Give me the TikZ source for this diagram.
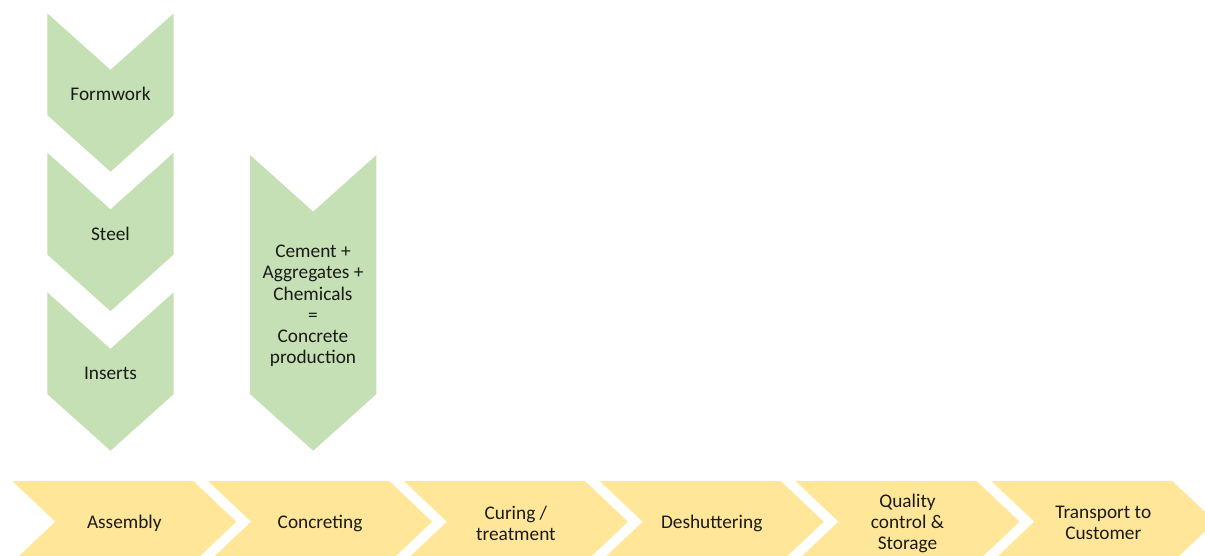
\documentclass[tikz,border=0pt]{standalone}
\usepackage{fontspec}
\setmainfont{Carlito}
\definecolor{chevgreen}{HTML}{C5E0B4}
\definecolor{chevyellow}{HTML}{FFE699}
\definecolor{txtcol}{HTML}{1A1A1A}
\tikzset{
  greenchev/.style={fill=chevgreen},
  yellowchev/.style={fill=chevyellow},
  lbl/.style={text=txtcol,align=center,inner sep=0pt,font=\fontsize{19.3}{21.2}\selectfont},
}
% down-pointing chevron: x, y (top-left), total height
\newcommand{\dnchev}[3]{%
  \fill[greenchev] (#1,#2) -- ++(63.2,56.6) -- ++(63.2,-56.6) -- ++(0,#3-56.6)
    -- ++(-63.2,56.6) -- ++(-63.2,-56.6) -- cycle;}
% right-pointing chevron: x (top-left)
\newcommand{\rtchev}[1]{%
  \fill[yellowchev] (#1,481) -- ++(181,0) -- ++(43,40.7) -- ++(-43,40.7)
    -- ++(-181,0) -- ++(43,-40.7) -- cycle;}
\begin{document}
\begin{tikzpicture}[x=1pt,y=-1pt]
\useasboundingbox (0,0) rectangle (1205,556);
\fill[white] (0,0) rectangle (1205,556);
\clip (0,0) rectangle (1205,556);
% vertical inputs
\dnchev{47.3}{13.3}{158.4}
\dnchev{47.3}{152.7}{158.4}
\dnchev{47.3}{292.3}{158.4}
\dnchev{250}{155}{295.7}
\node[lbl] (formwork) at (110.5,93.5) {Formwork};
\node[lbl] (steel) at (110.5,233.5) {Steel};
\node[lbl] (inserts) at (110.5,373.5) {Inserts};
\node[lbl] (concrete) at (313,306) {Cement +\\Aggregates +\\Chemicals\\=\\Concrete\\production};
% process line
\rtchev{12.3}
\rtchev{208.1}
\rtchev{403.9}
\rtchev{599.7}
\rtchev{795.5}
\rtchev{991.3}
\node[lbl] (assembly) at (124.3,523.5) {Assembly};
\node[lbl] (concreting) at (320.1,523.5) {Concreting};
\node[lbl] (curing) at (515.9,523.2) {Curing /\\treatment};
\node[lbl] (deshut) at (711.7,523.5) {Deshuttering};
\node[lbl] (quality) at (907.5,523.2) {Quality\\control \&\\Storage};
\node[lbl] (transport) at (1103.3,523.2) {Transport to\\Customer};
\end{tikzpicture}
\end{document}
